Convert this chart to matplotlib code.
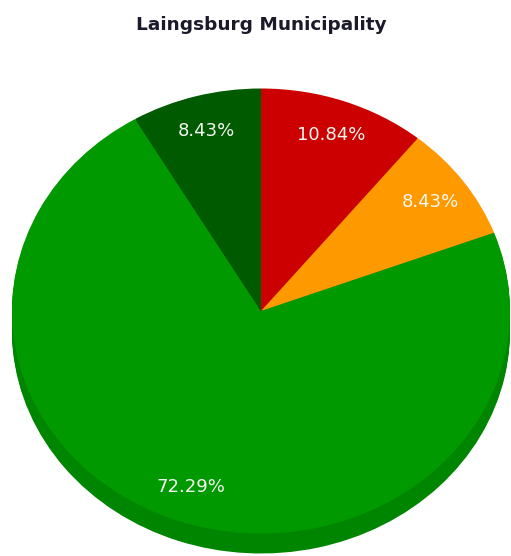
import matplotlib.pyplot as plt

# slices, clockwise from 12 o'clock
names = ['Red', 'Orange', 'Green', 'Dark green']
counts = [9, 7, 60, 7]
top_colors = ['#cc0000', '#ff9900', '#009900', '#005a00']
side_colors = ['#a00000', '#cc7a00', '#008500', '#004400']

fig = plt.figure(figsize=(5.11, 5.56), dpi=100)
ax = fig.add_axes([0, 0, 1, 1])

# pixel geometry of the tilted pie
cx, cy = 261, 556 - 311
rx, ry = 249, 222.5
depth = 20 / ry

# side of the pie: stacked shifted copies, darker
n_layers = 12
for i in range(n_layers, 0, -1):
    off = depth * i / n_layers
    ax.pie(counts, colors=side_colors, startangle=90, counterclock=False,
           center=(0, -off), wedgeprops=dict(linewidth=0))

# top face
wedges, texts, autotexts = ax.pie(
    counts, colors=top_colors, startangle=90, counterclock=False,
    autopct='%.2f%%', pctdistance=0.84,
    wedgeprops=dict(linewidth=0),
    textprops=dict(color='#f4f8f0', fontsize=13))

ax.set_aspect('auto')
ax.set_xlim(-cx / rx, (511 - cx) / rx)
ax.set_ylim(-cy / ry, (556 - cy) / ry)
ax.axis('off')

fig.text(261 / 511, 1 - 24.5 / 556, 'Laingsburg Municipality', ha='center', va='center',
         fontsize=13.3, fontweight='bold', color='#1a1a2a')

fig.savefig('out.png', dpi=100)
